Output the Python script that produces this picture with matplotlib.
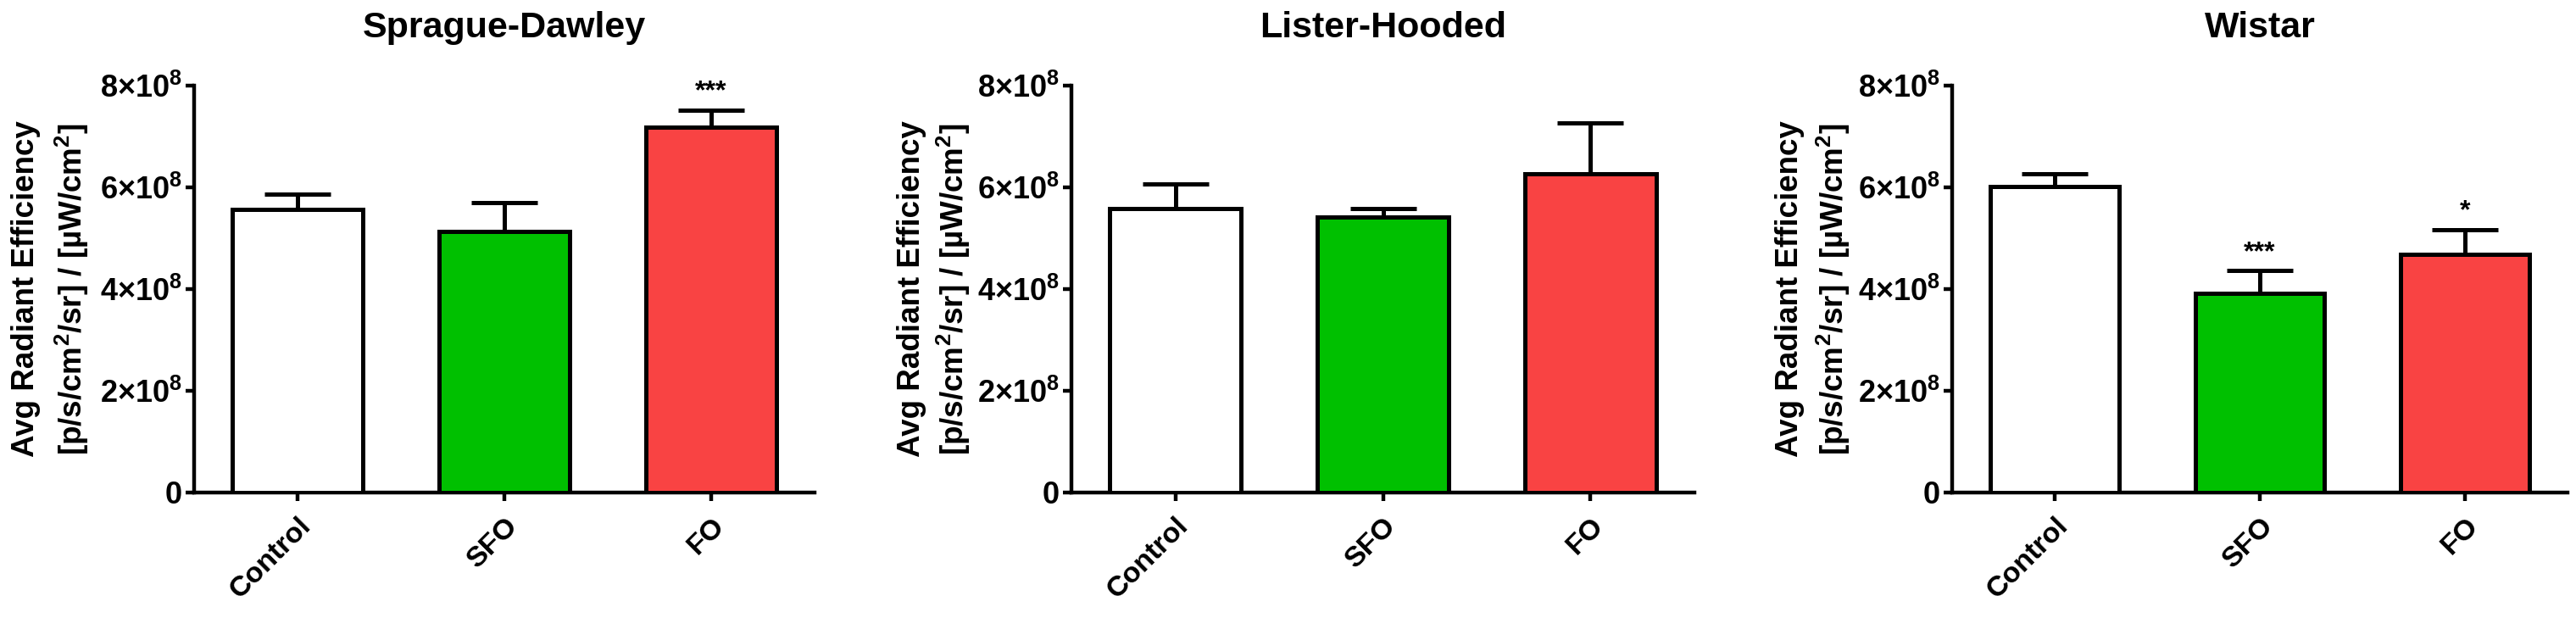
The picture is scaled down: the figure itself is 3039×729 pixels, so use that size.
import numpy as np
import matplotlib
matplotlib.use("Agg")
import matplotlib.pyplot as plt
from matplotlib.transforms import ScaledTranslation, offset_copy

plt.rcParams['font.family'] = ['Liberation Sans', 'DejaVu Sans']
plt.rcParams['font.weight'] = 'bold'
plt.rcParams['mathtext.fontset'] = 'custom'
plt.rcParams['mathtext.rm'] = 'Liberation Sans:bold'
plt.rcParams['mathtext.bf'] = 'Liberation Sans:bold'
plt.rcParams['mathtext.it'] = 'Liberation Sans:bold'

# ---- data ----
categories = ["Control", "SFO", "FO"]
strains = ["Sprague-Dawley", "Lister-Hooded", "Wistar"]
sd_mean = [5.56e8, 5.13e8, 7.19e8]
sd_sem = [0.30e8, 0.57e8, 0.33e8]
lh_mean = [5.58e8, 5.42e8, 6.27e8]
lh_sem = [0.49e8, 0.17e8, 1.00e8]
wi_mean = [6.02e8, 3.91e8, 4.68e8]
wi_sem = [0.25e8, 0.45e8, 0.49e8]
sd_sig = ["", "", "***"]
lh_sig = ["", "", ""]
wi_sig = ["", "***", "*"]
yticks = [0, 2e8, 4e8, 6e8, 8e8]
ytick_labels = ["0", r"$2{\times}10^{8}$", r"$4{\times}10^{8}$", r"$6{\times}10^{8}$", r"$8{\times}10^{8}$"]
ylabel_l1 = "Avg Radiant Efficiency"
ylabel_l2 = r"[p/s/cm$^{2}$/sr] / [µW/cm$^{2}$]"

colors = ["#FFFFFF", "#00C000", "#F94343"]

means = [sd_mean, lh_mean, wi_mean]
sems = [sd_sem, lh_sem, wi_sem]
sigs = [sd_sig, lh_sig, wi_sig]

W, H = 3039, 729
dpi = 100
fig = plt.figure(figsize=(W / dpi, H / dpi), dpi=dpi)

ax_px = [(229, 961), (1264, 1999), (2303, 3029)]
y_bot, y_top = 581, 101
l1_off = [189, 179, 182]
l2_off = [132, 127, 128]

lw = 3.6
for i in range(3):
    x0, x1 = ax_px[i]
    ax = fig.add_axes([x0 / W, 1 - y_bot / H, (x1 - x0) / W, (y_bot - y_top) / H])
    x = np.arange(len(categories))
    ax.errorbar(x, means[i], yerr=[np.zeros(3), sems[i]], fmt='none', ecolor='black',
                elinewidth=lw, capsize=28, capthick=lw, zorder=2)
    ax.bar(x, means[i], width=0.63, color=colors, edgecolor='black', linewidth=lw, zorder=3)
    ax.set_xlim(-0.5, 2.5)
    ax.set_ylim(0, 8e8)
    for s in ['top', 'right']:
        ax.spines[s].set_visible(False)
    for s in ['left', 'bottom']:
        ax.spines[s].set_linewidth(3.2)
    ax.set_yticks(yticks)
    ax.set_yticklabels(ytick_labels, fontsize=26, fontweight='bold')
    ax.set_xticks(x)
    ax.set_xticklabels(categories, fontsize=24.5, fontweight='bold', rotation=45,
                       ha='right', va='top', rotation_mode='anchor')
    for lab in ax.get_xticklabels():
        lab.set_transform(lab.get_transform() + ScaledTranslation(6 / dpi, 0, fig.dpi_scale_trans))
    ax.tick_params(axis='both', direction='out', length=7, width=3.2)
    ax.tick_params(axis='y', pad=3)
    ax.tick_params(axis='x', pad=10)
    # significance
    for j in range(3):
        if sigs[i][j]:
            ax.text(x[j], means[i][j] + sems[i][j] + 0.22e8, sigs[i][j], ha='center',
                    va='baseline', fontsize=23, fontweight='bold', clip_on=False)
    # title
    ax.text(0.5, (y_bot - 33) / (y_bot - y_top), strains[i], transform=ax.transAxes,
            ha='center', va='center', fontsize=31, fontweight='bold')
    # y label (two lines)
    t1 = offset_copy(ax.transAxes, fig=fig, x=-l1_off[i] * 72 / dpi, y=0, units='points')
    t2 = offset_copy(ax.transAxes, fig=fig, x=-l2_off[i] * 72 / dpi, y=0, units='points')
    ax.text(0, 0.5, ylabel_l1, transform=t1, rotation=90, rotation_mode='anchor',
            ha='center', va='baseline', fontsize=26.5, fontweight='bold')
    ax.text(0, 0.5, ylabel_l2, transform=t2, rotation=90, rotation_mode='anchor',
            ha='center', va='baseline', fontsize=26.5, fontweight='bold')

fig.savefig("out.png", dpi=dpi, facecolor='white')
